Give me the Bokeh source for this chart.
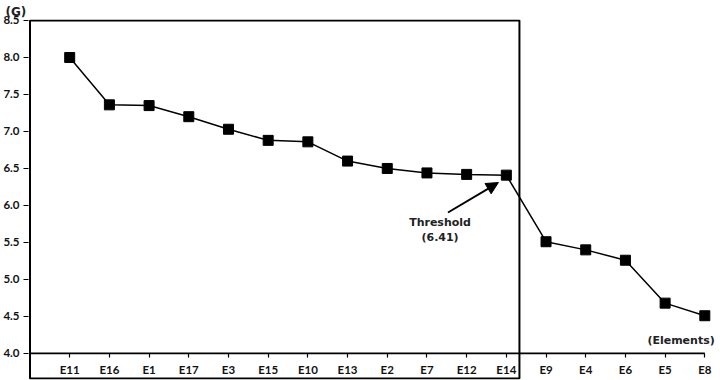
from bokeh.plotting import figure
from bokeh.models import FixedTicker, Label, Arrow, NormalHead, BoxAnnotation
from bokeh.embed import file_html
from bokeh.resources import INLINE

categories = ["E11", "E16", "E1", "E17", "E3", "E15", "E10", "E13", "E2", "E7",
              "E12", "E14", "E9", "E4", "E6", "E5", "E8"]
g_values = [8.0, 7.36, 7.35, 7.20, 7.03, 6.88, 6.86, 6.60, 6.50, 6.44,
            6.42, 6.41, 5.51, 5.40, 5.26, 4.68, 4.51]
y_ticks = [4.0, 4.5, 5.0, 5.5, 6.0, 6.5, 7.0, 7.5, 8.0, 8.5]
threshold = 6.41
threshold_label = "Threshold"
y_title = "(G)"
x_title = "(Elements)"

xs = list(range(len(categories)))
thr_idx = g_values.index(threshold)
n = len(categories)

TICK_FONT = "Lato"
BOLD_FONT = "DejaVu Sans"

p = figure(width=720, height=380, x_range=(-1.038, 16.37), y_range=(3.648, 8.5135),
           output_backend="svg", toolbar_location=None,
           min_border_left=26, min_border_right=1, min_border_top=19, min_border_bottom=1,
           title=y_title)
p.outline_line_color = None
p.grid.visible = False
p.background_fill_color = "white"

p.title.align = "left"
p.title.offset = -23
p.title.standoff = 2
p.title.text_font = BOLD_FONT
p.title.text_font_size = "12px"
p.title.text_font_style = "bold"
p.title.text_color = "#222222"

# y axis (its line is drawn by the box's left edge)
p.yaxis.ticker = FixedTicker(ticks=y_ticks)
p.yaxis.major_label_overrides = {t: f"{t:.1f}" for t in y_ticks}
p.yaxis.axis_line_color = None
p.yaxis.major_tick_line_color = "black"
p.yaxis.major_tick_line_width = 1.2
p.yaxis.major_tick_in = 0
p.yaxis.major_tick_out = 5
p.yaxis.minor_tick_line_color = None
p.yaxis.major_label_standoff = 4
p.yaxis.major_label_text_font = TICK_FONT
p.yaxis.major_label_text_font_size = "11.5px"
p.yaxis.major_label_text_font_style = "bold"
p.yaxis.major_label_text_color = "#111111"

# x axis at y = 4.0
p.xaxis.fixed_location = y_ticks[0]
p.xaxis.ticker = FixedTicker(ticks=xs)
p.xaxis.major_label_overrides = {i: c for i, c in zip(xs, categories)}
p.xaxis.axis_line_color = None
p.xaxis.major_tick_line_color = "black"
p.xaxis.major_tick_line_width = 1.2
p.xaxis.major_tick_in = 0
p.xaxis.major_tick_out = 4
p.xaxis.minor_tick_line_color = None
p.xaxis.major_label_standoff = 6
p.xaxis.major_label_text_font = TICK_FONT
p.xaxis.major_label_text_font_size = "11.5px"
p.xaxis.major_label_text_font_style = "bold"
p.xaxis.major_label_text_color = "#111111"

# x axis line from the left border to the last category
p.segment(x0=[-1], y0=[y_ticks[0]], x1=[n - 1], y1=[y_ticks[0]], line_color="black", line_width=1.8)

# box around the above-threshold group
box = BoxAnnotation(left=-1, right=thr_idx + 0.33, top=y_ticks[-1], bottom=3.662,
                    fill_alpha=0, line_color="black", line_alpha=1, line_width=2)
p.add_layout(box)

p.line(xs, g_values, line_color="black", line_width=1.5)
p.scatter(xs, g_values, marker="square", size=10, fill_color="black", line_color="black")

p.add_layout(Label(x=n - 1 + 0.25, y=4.18, text=x_title, text_font=BOLD_FONT,
                   text_font_style="bold", text_font_size="11px", text_align="right",
                   text_baseline="middle", text_color="#222222"))
p.add_layout(Label(x=thr_idx - 1.67, y=5.77, text=threshold_label, text_font=BOLD_FONT,
                   text_font_style="bold", text_font_size="11px", text_align="center",
                   text_baseline="middle", text_color="#222222"))
p.add_layout(Label(x=thr_idx - 1.67, y=5.57, text=f"({threshold:.2f})", text_font=BOLD_FONT,
                   text_font_style="bold", text_font_size="11px", text_align="center",
                   text_baseline="middle", text_color="#222222"))
p.add_layout(Arrow(end=NormalHead(size=12, fill_color="black", line_color="black"),
                   x_start=thr_idx - 1.47, y_start=5.905, x_end=thr_idx - 0.2, y_end=threshold - 0.1,
                   line_color="black", line_width=2))

open("out.html", "w").write(file_html(p, INLINE))
